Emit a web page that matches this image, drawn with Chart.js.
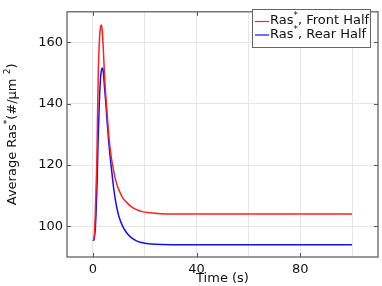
<!DOCTYPE html>
<html><head><meta charset="utf-8">
<script src="https://cdn.jsdelivr.net/npm/chart.js@4.4.1/dist/chart.umd.min.js"></script>
<style>html,body{margin:0;padding:0;background:#fff}#wrap{width:382px;height:286px}</style>
</head><body><div id="wrap"><canvas id="c" width="382" height="286"></canvas></div>
<script>
const timeFront = [0,0.3,0.6,0.9,1.2,1.5,1.8,2.1,2.5,2.9,3.2,3.6,4.0,4.5,5.2,5.9,6.5,7.0,7.6,8.5,9.5,10.5,11.5,12.8,14,15.5,17,19,22,26,30,40,50,60,70,80,90,100];
const frontHalf = [95.3,95.8,98,104,112,121,137,151.5,160.5,165,165.7,164,158,149,140,132,126.5,123,120,116,113,111,109.3,108,107,106,105.4,104.8,104.45,104.15,104.05,104,104,104,104,104,104,104];
const timeRear = [0,0.3,0.6,0.9,1.2,1.5,1.7,2.0,2.5,3.0,3.4,3.7,4.0,4.5,5.0,5.5,6.0,6.5,7.0,8.0,8.7,9.5,10.0,11.5,13,14.7,17,20,24,30,40,50,60,70,80,90,100];
const rearHalf = [95.3,95.5,96.5,99,104,111,117,128,141,149,151.3,151.7,150.5,145,140,134,128.5,124,120,112.5,108.5,105,103.3,100,97.9,96.4,95.2,94.5,94.15,94,94,94,94,94,94,94,94];
const xGridValues = [0,20,40,60,80,100];
const xTickLabels = [0,40,80];
const yTickLabels = [100,120,140,160];
const seriesNames = [["Ras","*",", Front Half"],["Ras","*",", Rear Half"]];
const yTitleParts = [["Average Ras",0],["*",1],["(#/\u03bcm ",0],["2",1],[")",0]];
const xTitle = "Time (s)";

const FONT = "'DejaVu Sans', sans-serif";
const colors = ["#ff2020","#1010ff"];

const framePlugin = {
  id:'frame',
  afterDraw(chart){
    const {ctx, chartArea:a, scales:{x,y}} = chart;
    ctx.save();
    ctx.strokeStyle = '#555'; ctx.lineWidth = 1.2;
    ctx.strokeRect(a.left, a.top, a.right-a.left, a.bottom-a.top);
    ctx.lineWidth = 1;
    xTickLabels.forEach(v=>{
      const px = Math.round(x.getPixelForValue(v))+0.5;
      ctx.beginPath(); ctx.moveTo(px,a.bottom); ctx.lineTo(px,a.bottom-4);
      ctx.moveTo(px,a.top); ctx.lineTo(px,a.top+4); ctx.stroke();
    });
    yTickLabels.forEach(v=>{
      const py = Math.round(y.getPixelForValue(v))+0.5;
      ctx.beginPath(); ctx.moveTo(a.left,py); ctx.lineTo(a.left+4,py);
      ctx.moveTo(a.right,py); ctx.lineTo(a.right-4,py); ctx.stroke();
    });
    // legend
    const lx=252.5, ly=9.5, lw=118, lh=38;
    ctx.fillStyle='#fff'; ctx.fillRect(lx,ly,lw,lh);
    ctx.strokeStyle='#666'; ctx.lineWidth=1; ctx.strokeRect(lx,ly,lw,lh);
    seriesNames.forEach((parts,i)=>{
      const yy = 21 + i*13.5;
      ctx.strokeStyle=colors[i]; ctx.lineWidth=1.2;
      ctx.beginPath(); ctx.moveTo(255,yy+0.5); ctx.lineTo(269,yy+0.5); ctx.stroke();
      ctx.fillStyle='#111'; ctx.textBaseline='middle'; ctx.textAlign='left';
      let tx=270;
      ctx.font = "13px "+FONT; ctx.fillText(parts[0],tx,yy); tx+=ctx.measureText(parts[0]).width;
      ctx.font = "9px "+FONT; ctx.fillText(parts[1],tx,yy-5); tx+=ctx.measureText(parts[1]).width;
      ctx.font = "13px "+FONT; ctx.fillText(parts[2],tx,yy);
    });
    // y title
    ctx.save();
    ctx.translate(13,(a.top+a.bottom)/2);
    ctx.rotate(-Math.PI/2);
    let total=0;
    yTitleParts.forEach(p=>{ctx.font=(p[1]?"9px ":"13px ")+FONT; total+=ctx.measureText(p[0]).width;});
    let tx=-total/2;
    ctx.fillStyle='#111'; ctx.textBaseline='middle'; ctx.textAlign='left';
    yTitleParts.forEach(p=>{ctx.font=(p[1]?"9px ":"13px ")+FONT; ctx.fillText(p[0],tx,p[1]?-5:0); tx+=ctx.measureText(p[0]).width;});
    ctx.restore();
    ctx.restore();
  }
};

new Chart(document.getElementById('c'),{
  type:'line',
  data:{datasets:[
    {label:seriesNames[0].join(''),data:timeFront.map((t,i)=>({x:t,y:frontHalf[i]})),borderColor:colors[0],borderWidth:1.5,pointRadius:0,cubicInterpolationMode:'monotone',fill:false},
    {label:seriesNames[1].join(''),data:timeRear.map((t,i)=>({x:t,y:rearHalf[i]})),borderColor:colors[1],borderWidth:1.5,pointRadius:0,cubicInterpolationMode:'monotone',fill:false}
  ]},
  options:{
    responsive:false,animation:false,
    layout:{padding:{left:0,right:4,top:3,bottom:0}},
    plugins:{legend:{display:false},tooltip:{enabled:false}},
    scales:{
      x:{type:'linear',min:-10,max:110,
        afterFit(s){s.height=29;},
        afterBuildTicks(s){s.ticks=xGridValues.map(v=>({value:v}));},
        grid:{color:'#e6e6e6',drawTicks:false},border:{display:false},
        ticks:{padding:5,color:'#111',font:{family:FONT,size:13},autoSkip:false,maxRotation:0,
          callback:v=>xTickLabels.includes(v)?String(v):''},
        title:{display:true,text:xTitle,color:'#111',font:{family:FONT,size:13},padding:{top:-1,bottom:0}}
      },
      y:{type:'linear',min:90,max:170,
        afterFit(s){s.width=67;},
        afterBuildTicks(s){s.ticks=yTickLabels.map(v=>({value:v}));},
        grid:{color:'#e6e6e6',drawTicks:false},border:{display:false},
        ticks:{padding:4,color:'#111',font:{family:FONT,size:13},autoSkip:false,
          callback:v=>String(v)}
      }
    }
  },
  plugins:[framePlugin]
});
</script></body></html>
